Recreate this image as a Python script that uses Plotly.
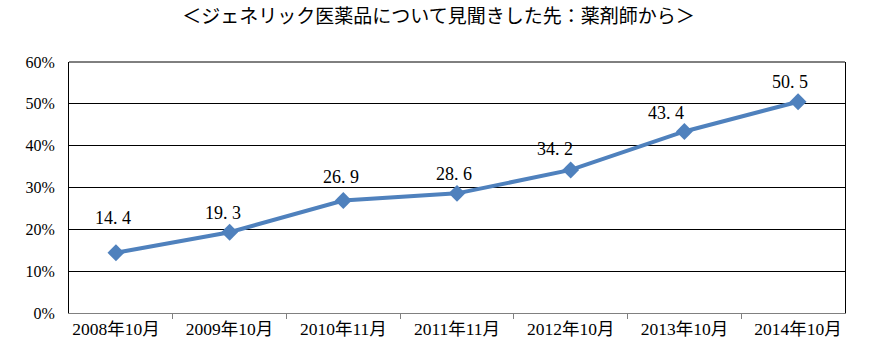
import plotly.graph_objects as go

categories = ["2008年10月", "2009年10月", "2010年11月", "2011年11月", "2012年10月", "2013年10月", "2014年10月"]
values = [14.4, 19.3, 26.9, 28.6, 34.2, 43.4, 50.5]
label_texts = ["14.4", "19.3", "26.9", "28.6", "34.2", "43.4", "50.5"]
label_xshift = [-3, -7, -2, -3, -16, -18, -8]
label_yshift = [35, 19, 23, 19, 21, 18, 20]
y_ticks = [0, 10, 20, 30, 40, 50, 60]
y_tick_labels = ["0%", "10%", "20%", "30%", "40%", "50%", "60%"]
title = "＜ジェネリック医薬品について見聞きした先：薬剤師から＞"

FONT = "Liberation Serif, Noto Sans CJK JP, serif"

fig = go.Figure()
fig.add_trace(go.Scatter(
    x=categories, y=values, mode="lines+markers",
    line=dict(color="#4F81BD", width=4),
    marker=dict(symbol="diamond", size=13, color="#4F81BD"),
    showlegend=False, hoverinfo="skip",
))

for c, v, t, dx, dy in zip(categories, values, label_texts, label_xshift, label_yshift):
    fig.add_annotation(x=c, y=v, text=t.replace(".", ". "), showarrow=False,
                       yshift=dy, xshift=dx,
                       font=dict(family=FONT, size=18, color="#000000"))

# black top border of the plot area
fig.add_shape(type="line", xref="paper", yref="paper", x0=0, x1=1, y0=1, y1=1,
              line=dict(color="#000000", width=1), layer="below")

fig.update_layout(
    width=877, height=356,
    margin=dict(l=69, r=32, t=62, b=43),
    paper_bgcolor="white", plot_bgcolor="white",
    title=dict(text=title, x=0.5, xanchor="center", y=0.955, yanchor="middle",
               font=dict(family="Noto Sans CJK JP", size=19, color="#000000")),
    font=dict(family=FONT, color="#000000"),
)
fig.update_xaxes(
    type="category", tickson="boundaries", ticks="outside", ticklen=5,
    tickcolor="#808080", showline=True, linecolor="#808080", linewidth=1,
    showgrid=False, tickfont=dict(family=FONT, size=17.5, color="#000000"),
)
fig.update_yaxes(
    range=[0, 60], tickvals=y_ticks, ticktext=y_tick_labels,
    showgrid=True, gridcolor="#000000", gridwidth=1,
    showline=True, linecolor="#000000", linewidth=1, mirror=True,
    ticks="outside", ticklen=10, tickcolor="rgba(0,0,0,0)",
    tickfont=dict(family=FONT, size=16, color="#000000"), zeroline=False,
)

fig.write_html("out.html", config={"displayModeBar": False},
               post_script="document.body.style.margin='0';")
